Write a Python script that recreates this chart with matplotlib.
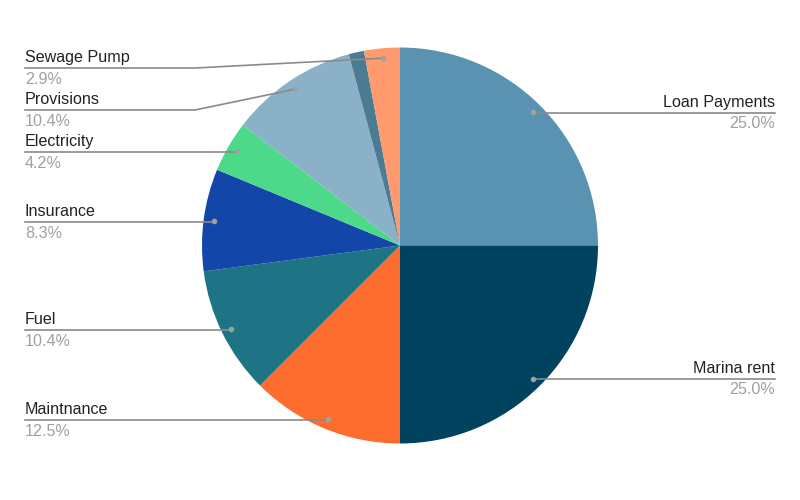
import numpy as np
import matplotlib.pyplot as plt

plt.rcParams['font.family'] = ['Liberation Sans', 'DejaVu Sans']

# expenses, clockwise from 12 o'clock
categories = ['Loan Payments', 'Marina rent', 'Maintnance', 'Fuel', 'Insurance',
              'Electricity', 'Provisions', 'Other', 'Sewage Pump']
values = [1200, 1200, 600, 500, 400, 200, 500, 60, 140]
colors = ['#5a93b1', '#00435e', '#ff6d2e', '#1e7484', '#1246a8',
          '#4cd98a', '#8ab1c7', '#4b7c93', '#ff9a6e']
show_label = [True, True, True, True, True, True, True, False, True]

# label layout: (side, y of leader line in px)
label_pos = {
    'Loan Payments': ('right', 113),
    'Marina rent': ('right', 379),
    'Maintnance': ('left', 420),
    'Fuel': ('left', 330),
    'Insurance': ('left', 222),
    'Electricity': ('left', 152),
    'Provisions': ('left', 110),
    'Sewage Pump': ('left', 68),
}

W, H = 800, 500
fig = plt.figure(figsize=(8, 5), dpi=100)
ax = fig.add_axes([0, 0, 1, 1])

cx, cy, R = 400, H - 245.5, 198
wedges, _ = ax.pie(values, colors=colors, startangle=90, counterclock=False,
                   center=(cx, cy), radius=R, frame=True,
                   wedgeprops=dict(linewidth=0))
ax.set_xlim(0, W)
ax.set_ylim(0, H)
ax.set_aspect('equal')
ax.axis('off')

total = sum(values)
line_c = '#8a8a8a'
fs = 11.6
for w, name, v, show in zip(wedges, categories, values, show_label):
    if not show:
        continue
    mid = np.deg2rad((w.theta1 + w.theta2) / 2)
    dx = cx + 0.95 * R * np.cos(mid)
    dy = cy + 0.95 * R * np.sin(mid)
    side, ly = label_pos[name]
    ly = H - ly
    pct = '%.1f%%' % (100 * v / total)
    if side == 'left':
        tx, ha = 25, 'left'
        if abs(dy - ly) > 3:
            ax.plot([tx, 195, dx], [ly, ly, dy], color=line_c, lw=1.2)
        else:
            ax.plot([tx, dx], [ly, ly], color=line_c, lw=1.2)
    else:
        tx, ha = 775, 'right'
        ax.plot([dx, tx], [ly, ly], color=line_c, lw=1.2)
    ax.text(tx, ly + 6, name, ha=ha, va='baseline', fontsize=fs,
            color='#222222')
    ax.text(tx, ly - 3.5, pct, ha=ha, va='top', fontsize=fs,
            color='#a0a0a0')
    ax.plot(dx, dy, 'o', ms=4, color='#a0a0a0', mec='none')

fig.savefig('out.png', dpi=100)
